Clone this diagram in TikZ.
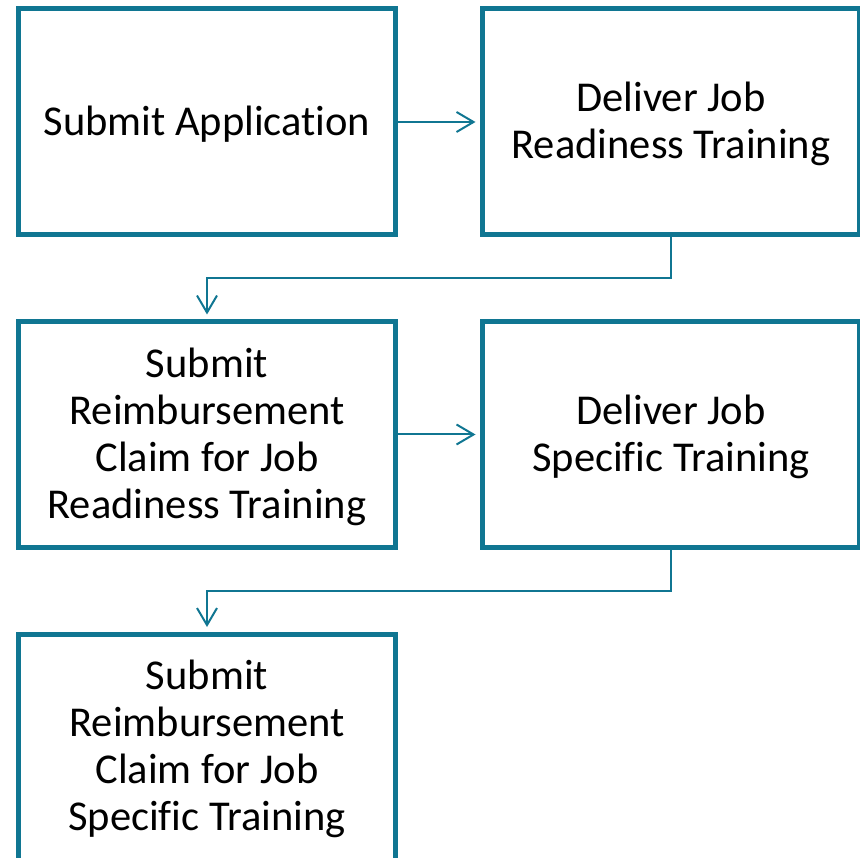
\documentclass[tikz,border=0pt]{standalone}
\usepackage{fontspec}
\setmainfont[RawFeature={-liga;-clig;-calt}]{Carlito}
\usetikzlibrary{arrows.meta}
\definecolor{flowteal}{RGB}{16,118,146}
\tikzset{
	stepbox/.style={draw=flowteal, line width=5pt, rectangle, minimum width=377pt, minimum height=226pt, inner sep=0pt, outer sep=0pt, align=center, font=\fontsize{42.5}{47}\selectfont, text depth=3pt},
	flowarrow/.style={draw=flowteal, line width=2pt, -{Straight Barb[length=17pt, width=20pt, line width=2pt]}, shorten >=7pt}
}

\begin{document}
\begin{tikzpicture}[x=1pt, y=1pt]
		%%%%% START %%%%%
		\useasboundingbox (0, 0) rectangle (860, -858);
		
		\node[stepbox] (apply) at (207, -122) {Submit Application};
		\node[stepbox] (jrt) at (671, -122) {Deliver Job\\Readiness Training};
		
		\node[stepbox] (claimjrt) at (207, -434.5) {Submit\\Reimbursement\\Claim for Job\\Readiness Training};
		\node[stepbox] (jst) at (671, -434.5) {Deliver Job\\Specific Training};
		
		\node[stepbox] (claimjst) at (207, -747) {Submit\\Reimbursement\\Claim for Job\\Specific Training};
		
		\draw[flowarrow] (apply.east) -- (jrt.west);
		\draw[flowarrow] (jrt.south) -- ++(0, -43) -| (claimjrt.north);
		\draw[flowarrow] (claimjrt.east) -- (jst.west);
		\draw[flowarrow] (jst.south) -- ++(0, -43) -| (claimjst.north);
		
		%%%%% END %%%%%
	\end{tikzpicture}
\end{document}
